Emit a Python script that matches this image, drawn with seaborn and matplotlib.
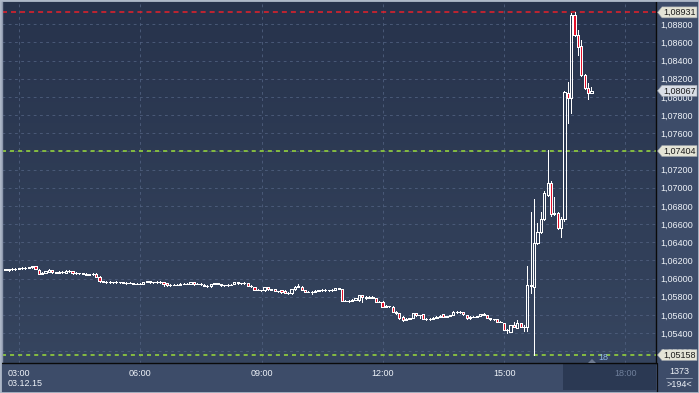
import numpy as np
import pandas as pd
import matplotlib
matplotlib.use("Agg")
import matplotlib.pyplot as plt
import matplotlib.transforms as mtransforms
from matplotlib.patches import Polygon, Rectangle
from matplotlib.lines import Line2D
from matplotlib.colors import LinearSegmentedColormap
import seaborn as sns

# ---------------- data (EUR/USD, 5-minute candles, 03.12.15) ----------------
open_ = [
    1.06100, 1.06097, 1.06102, 1.06105, 1.06108, 1.06112, 1.06115, 1.06118, 1.06126, 1.06135,
    1.06097, 1.06053, 1.06061, 1.06072, 1.06094, 1.06069, 1.06066, 1.06072, 1.06061, 1.06086,
    1.06078, 1.06061, 1.06063, 1.06056, 1.06053, 1.06044, 1.06047, 1.06053, 1.06021, 1.05969,
    1.05966, 1.05962, 1.05963, 1.05960, 1.05962, 1.05958, 1.05956, 1.05951, 1.05952, 1.05943,
    1.05944, 1.05942, 1.05962, 1.05970, 1.05958, 1.05960, 1.05962, 1.05961, 1.05951, 1.05926,
    1.05932, 1.05930, 1.05933, 1.05943, 1.05942, 1.05943, 1.05958, 1.05940, 1.05941, 1.05932,
    1.05921, 1.05914, 1.05940, 1.05951, 1.05940, 1.05926, 1.05927, 1.05932, 1.05940, 1.05958,
    1.05951, 1.05950, 1.05951, 1.05921, 1.05903, 1.05877, 1.05876, 1.05870, 1.05903, 1.05881,
    1.05881, 1.05863, 1.05870, 1.05866, 1.05844, 1.05838, 1.05881, 1.05909, 1.05909, 1.05874,
    1.05855, 1.05857, 1.05852, 1.05868, 1.05874, 1.05873, 1.05875, 1.05872, 1.05879, 1.05892,
    1.05886, 1.05756, 1.05757, 1.05752, 1.05769, 1.05760, 1.05815, 1.05800, 1.05790, 1.05801,
    1.05782, 1.05745, 1.05746, 1.05690, 1.05698, 1.05690, 1.05635, 1.05617, 1.05580, 1.05543,
    1.05554, 1.05565, 1.05617, 1.05598, 1.05606, 1.05554, 1.05555, 1.05556, 1.05568, 1.05582,
    1.05606, 1.05580, 1.05588, 1.05598, 1.05631, 1.05635, 1.05630, 1.05598, 1.05562, 1.05580,
    1.05578, 1.05588, 1.05606, 1.05598, 1.05568, 1.05554, 1.05554, 1.05525, 1.05507, 1.05433,
    1.05415, 1.05488, 1.05459, 1.05507, 1.05470, 1.05466, 1.05929, 1.05907, 1.06391, 1.06512,
    1.06655, 1.06920, 1.07052, 1.06721, 1.06721, 1.06556, 1.06655, 1.08043, 1.07988, 1.08901,
    1.08681, 1.08560, 1.08241, 1.08098, 1.08046,
]
high = [
    1.06108, 1.06108, 1.06112, 1.06115, 1.06120, 1.06122, 1.06125, 1.06132, 1.06142, 1.06138,
    1.06102, 1.06068, 1.06088, 1.06100, 1.06096, 1.06076, 1.06080, 1.06078, 1.06092, 1.06090,
    1.06080, 1.06068, 1.06066, 1.06062, 1.06056, 1.06054, 1.06056, 1.06058, 1.06025, 1.05975,
    1.05970, 1.05968, 1.05967, 1.05968, 1.05966, 1.05964, 1.05960, 1.05958, 1.05955, 1.05950,
    1.05949, 1.05966, 1.05978, 1.05974, 1.05965, 1.05968, 1.05970, 1.05963, 1.05955, 1.05938,
    1.05937, 1.05938, 1.05950, 1.05948, 1.05950, 1.05962, 1.05960, 1.05946, 1.05946, 1.05938,
    1.05924, 1.05944, 1.05956, 1.05954, 1.05943, 1.05932, 1.05937, 1.05938, 1.05962, 1.05961,
    1.05956, 1.05957, 1.05955, 1.05924, 1.05908, 1.05883, 1.05879, 1.05907, 1.05905, 1.05887,
    1.05886, 1.05868, 1.05874, 1.05870, 1.05848, 1.05885, 1.05914, 1.05940, 1.05914, 1.05876,
    1.05862, 1.05860, 1.05872, 1.05878, 1.05880, 1.05881, 1.05879, 1.05884, 1.05898, 1.05898,
    1.05890, 1.05762, 1.05760, 1.05774, 1.05788, 1.05823, 1.05818, 1.05803, 1.05810, 1.05806,
    1.05788, 1.05752, 1.05750, 1.05704, 1.05703, 1.05695, 1.05640, 1.05622, 1.05584, 1.05560,
    1.05570, 1.05622, 1.05620, 1.05604, 1.05610, 1.05560, 1.05562, 1.05575, 1.05586, 1.05596,
    1.05612, 1.05592, 1.05604, 1.05640, 1.05645, 1.05640, 1.05632, 1.05603, 1.05585, 1.05586,
    1.05592, 1.05612, 1.05620, 1.05602, 1.05570, 1.05558, 1.05558, 1.05530, 1.05512, 1.05440,
    1.05492, 1.05520, 1.05540, 1.05512, 1.05490, 1.06138, 1.06732, 1.06876, 1.06611, 1.06732,
    1.06964, 1.07415, 1.07074, 1.06898, 1.06732, 1.06677, 1.08065, 1.08164, 1.08923, 1.08931,
    1.08736, 1.08626, 1.08250, 1.08153, 1.08109,
]
low = [
    1.06090, 1.06088, 1.06095, 1.06098, 1.06102, 1.06105, 1.06108, 1.06112, 1.06120, 1.06100,
    1.06045, 1.06048, 1.06058, 1.06068, 1.06062, 1.06060, 1.06062, 1.06063, 1.06058, 1.06072,
    1.06055, 1.06054, 1.06050, 1.06048, 1.06038, 1.06040, 1.06043, 1.06012, 1.05962, 1.05958,
    1.05955, 1.05956, 1.05954, 1.05955, 1.05952, 1.05950, 1.05945, 1.05946, 1.05938, 1.05937,
    1.05936, 1.05938, 1.05958, 1.05952, 1.05952, 1.05955, 1.05956, 1.05920, 1.05922, 1.05922,
    1.05925, 1.05926, 1.05930, 1.05936, 1.05938, 1.05940, 1.05934, 1.05935, 1.05934, 1.05917,
    1.05908, 1.05910, 1.05936, 1.05935, 1.05921, 1.05920, 1.05922, 1.05926, 1.05936, 1.05945,
    1.05945, 1.05944, 1.05917, 1.05908, 1.05872, 1.05870, 1.05864, 1.05866, 1.05876, 1.05874,
    1.05859, 1.05857, 1.05844, 1.05840, 1.05832, 1.05834, 1.05878, 1.05905, 1.05870, 1.05848,
    1.05850, 1.05835, 1.05848, 1.05865, 1.05868, 1.05868, 1.05866, 1.05868, 1.05876, 1.05885,
    1.05750, 1.05748, 1.05744, 1.05748, 1.05765, 1.05752, 1.05745, 1.05770, 1.05786, 1.05782,
    1.05740, 1.05738, 1.05685, 1.05684, 1.05690, 1.05630, 1.05610, 1.05556, 1.05530, 1.05538,
    1.05550, 1.05560, 1.05592, 1.05570, 1.05550, 1.05540, 1.05548, 1.05552, 1.05564, 1.05578,
    1.05576, 1.05576, 1.05584, 1.05594, 1.05626, 1.05625, 1.05600, 1.05556, 1.05558, 1.05574,
    1.05574, 1.05584, 1.05600, 1.05564, 1.05548, 1.05545, 1.05520, 1.05518, 1.05430, 1.05400,
    1.05410, 1.05465, 1.05455, 1.05466, 1.05422, 1.05422, 1.05841, 1.05158, 1.06380, 1.06501,
    1.06644, 1.06909, 1.06688, 1.06699, 1.06545, 1.06457, 1.06633, 1.07712, 1.07822, 1.08670,
    1.08461, 1.08230, 1.08087, 1.07977, 1.08040,
]
close = [
    1.06097, 1.06102, 1.06105, 1.06108, 1.06112, 1.06115, 1.06118, 1.06126, 1.06135, 1.06105,
    1.06053, 1.06061, 1.06083, 1.06094, 1.06069, 1.06066, 1.06072, 1.06069, 1.06086, 1.06078,
    1.06061, 1.06063, 1.06056, 1.06053, 1.06044, 1.06047, 1.06050, 1.06017, 1.05969, 1.05966,
    1.05962, 1.05963, 1.05960, 1.05962, 1.05958, 1.05956, 1.05951, 1.05952, 1.05943, 1.05944,
    1.05942, 1.05962, 1.05970, 1.05958, 1.05960, 1.05962, 1.05961, 1.05945, 1.05926, 1.05932,
    1.05930, 1.05933, 1.05943, 1.05942, 1.05945, 1.05958, 1.05940, 1.05941, 1.05939, 1.05921,
    1.05914, 1.05940, 1.05951, 1.05940, 1.05926, 1.05927, 1.05932, 1.05931, 1.05958, 1.05951,
    1.05950, 1.05951, 1.05921, 1.05914, 1.05877, 1.05876, 1.05870, 1.05903, 1.05881, 1.05879,
    1.05863, 1.05862, 1.05848, 1.05844, 1.05838, 1.05881, 1.05909, 1.05922, 1.05874, 1.05855,
    1.05857, 1.05852, 1.05868, 1.05874, 1.05873, 1.05875, 1.05872, 1.05879, 1.05892, 1.05890,
    1.05756, 1.05757, 1.05752, 1.05769, 1.05782, 1.05815, 1.05800, 1.05790, 1.05801, 1.05790,
    1.05745, 1.05746, 1.05690, 1.05698, 1.05696, 1.05635, 1.05626, 1.05562, 1.05543, 1.05554,
    1.05562, 1.05617, 1.05598, 1.05600, 1.05554, 1.05555, 1.05556, 1.05568, 1.05582, 1.05591,
    1.05580, 1.05588, 1.05598, 1.05631, 1.05635, 1.05630, 1.05606, 1.05562, 1.05580, 1.05578,
    1.05588, 1.05606, 1.05604, 1.05568, 1.05554, 1.05549, 1.05525, 1.05526, 1.05433, 1.05428,
    1.05488, 1.05470, 1.05507, 1.05470, 1.05466, 1.05929, 1.05918, 1.06391, 1.06512, 1.06655,
    1.06942, 1.07052, 1.06710, 1.06716, 1.06556, 1.06655, 1.08054, 1.07988, 1.08901, 1.08681,
    1.08549, 1.08241, 1.08098, 1.08046, 1.08067,
]
first_candle = "2015-12-03 02:39:30"
candle_freq = "5min"

level_high = 1.08931      # red dashed
level_mid = 1.07404       # green dashed
level_low = 1.05158       # green dashed
last_price = 1.08067

grid_prices = [1.052, 1.054, 1.056, 1.058, 1.060, 1.062, 1.064, 1.066, 1.068, 1.070,
               1.072, 1.074, 1.076, 1.078, 1.080, 1.082, 1.084, 1.086, 1.088]
# labels hidden in the reference behind the price tags are not listed here
label_prices = [1.052, 1.054, 1.056, 1.058, 1.060, 1.062, 1.064, 1.066, 1.068, 1.070,
                1.072, 1.076, 1.078, 1.080, 1.082, 1.084, 1.086, 1.088]
time_ticks = [3, 6, 9, 12, 15, 18]
time_labels = ["03:00", "06:00", "09:00", "12:00", "15:00", "18:00"]
date_label = "03.12.15"
corner_top = "1373"
corner_bottom = ">194<"
counter_label = "18"

# ---------------- style ----------------
sns.set_theme(style="dark")
plt.rcParams["font.family"] = ["Liberation Sans", "DejaVu Sans"]
plt.rcParams["lines.scale_dashes"] = False

W, H = 699, 393
PANEL = "#3d4c69"
TXT = "#eef2f8"

n = len(close)
times = pd.date_range(first_candle, periods=n, freq=candle_freq)
hours = (times - times.normalize()).total_seconds().to_numpy() / 3600.0
df = pd.DataFrame({"t": hours, "o": open_, "h": high, "l": low, "c": close})
df["lo"] = df[["o", "c"]].min(axis=1)
df["hi"] = df[["o", "c"]].max(axis=1)
df["up"] = df["c"] >= df["o"]

fig = plt.figure(figsize=(W / 100, H / 100), dpi=100)
fig.patch.set_facecolor(PANEL)
ax = fig.add_axes([2 / W, 30 / H, 654 / W, 361 / H])

xmin, xmax = 2.580, 18.756
ymin, ymax = 1.05070, 1.09045
ax.set_xlim(xmin, xmax)
ax.set_ylim(ymin, ymax)

# gradient background
cmap = LinearSegmentedColormap.from_list("bg", ["#27334c", "#36455f"])
ax.imshow(np.linspace(0, 1, 256).reshape(-1, 1), cmap=cmap, aspect="auto",
          extent=[xmin, xmax, ymin, ymax], origin="upper", zorder=0)

# grid
ax.grid(False)
for yv in grid_prices:
    ax.axhline(yv, color="#4f5f7e", lw=0.6, ls=(0, (2, 2.5)), zorder=1)
for xv in time_ticks:
    ax.axvline(xv, color="#4f5f7e", lw=0.6, ls=(0, (2, 2.5)), zorder=1)

# level lines
ax.axhline(level_high, color="#e8202a", lw=1.1, ls=(0, (3.6, 2.9)), zorder=2)
ax.axhline(level_mid, color="#8cc63f", lw=1.3, ls=(0, (2.9, 2.9)), zorder=2)
ax.axhline(level_low, color="#8cc63f", lw=1.3, ls=(0, (2.9, 2.9)), zorder=2)

# candles
bw = 2.2 / 654 * (xmax - xmin)
ax.vlines(df["t"], df["l"], df["lo"], color="white", lw=0.72, zorder=3, antialiased=False)
ax.vlines(df["t"], df["hi"], df["h"], color="white", lw=0.72, zorder=3, antialiased=False)
up = df[df["up"]]
dn = df[~df["up"]]
ax.bar(up["t"], up["hi"] - up["lo"], bottom=up["lo"], width=bw,
       facecolor="none", edgecolor="white", lw=0.72, zorder=4, antialiased=False)
ax.bar(dn["t"], dn["hi"] - dn["lo"], bottom=dn["lo"], width=bw,
       facecolor="#e3102a", edgecolor="white", lw=0.72, zorder=4, antialiased=False)

# axes / ticks
ax.yaxis.tick_right()
ax.set_yticks(label_prices)
ax.set_yticklabels([f"{v:.5f}".replace(".", ",") for v in label_prices])
ax.tick_params(axis="y", length=0, pad=3, labelsize=6.5, labelcolor=TXT)
ax.set_xticks(time_ticks)
ax.set_xticklabels(time_labels)
ax.tick_params(axis="x", length=0, pad=4, labelsize=6.5, labelcolor=TXT)
ax.get_xticklabels()[-1].set_color("#6f7f9b")
ax.spines["top"].set_visible(False)
ax.spines["left"].set_color("#8d98ad")
ax.spines["left"].set_linewidth(1.0)
ax.spines["right"].set_color("#0a0a0a")
ax.spines["bottom"].set_color("#0a0a0a")
ax.spines["right"].set_linewidth(1.0)
ax.spines["bottom"].set_linewidth(1.0)

# future shading in time strip
fig.add_artist(Rectangle((563 / W, 3 / H), (656 - 563) / W, 26 / H,
                         transform=fig.transFigure, facecolor="#2b3953",
                         edgecolor="none", zorder=0))
for lab in ax.get_xticklabels():
    lab.set_zorder(5)

# vertical separator of right column
fig.add_artist(Line2D([656.5 / W, 656.5 / W], [0, 30 / H], transform=fig.transFigure,
                      color="#0a0a0a", lw=0.9))

# date label + corner
fig.text(8 / W, (H - 383.5) / H, date_label, fontsize=6.5, color=TXT, va="center", ha="left")
fig.text(679 / W, (H - 372) / H, corner_top, fontsize=6.5, color=TXT, va="center", ha="center")
fig.text(679 / W, (H - 384.5) / H, corner_bottom, fontsize=6.5, color=TXT, va="center", ha="center")
fig.add_artist(Line2D([666 / W, 692 / W], [(H - 378) / H] * 2, transform=fig.transFigure,
                      color="#9aa6bb", lw=0.6))

# price tags
ident = mtransforms.IdentityTransform()


def tag(price, fc):
    yp = ax.transData.transform((xmin, price))[1]
    verts = [(657.5, yp), (662, yp + 5.5), (697, yp + 5.5), (697, yp - 5.5), (662, yp - 5.5)]
    fig.add_artist(Polygon(verts, closed=True, transform=ident, facecolor=fc,
                           edgecolor="#9aa0a8", lw=0.4, zorder=10))
    fig.text(663 / W, yp / H, f"{price:.5f}".replace(".", ","), fontsize=6.5,
             color="#1c1c1c", va="center", ha="left", zorder=11)


tag(level_high, "#e4e4d6")
tag(last_price, "#d9dee6")
tag(level_mid, "#e4e4d6")
tag(level_low, "#e4e4d6")

# candle counter near the bottom
yb = ax.transData.transform((xmin, ymin))[1]
fig.add_artist(Polygon([(588, yb), (596, yb), (592, yb + 4)], closed=True, transform=ident,
                       facecolor="#6d7a90", edgecolor="none", zorder=6))
fig.text(598 / W, (H - 358) / H, counter_label, fontsize=6.5, color="#8fb6e6",
         va="center", ha="left", zorder=6)

# outer frame
fig.add_artist(Rectangle((0, 0), 1, 1, transform=fig.transFigure, facecolor="none",
                         edgecolor="#aeb8c8", lw=2.0, zorder=20))

fig.savefig("out.png", dpi=100, facecolor=fig.get_facecolor())
